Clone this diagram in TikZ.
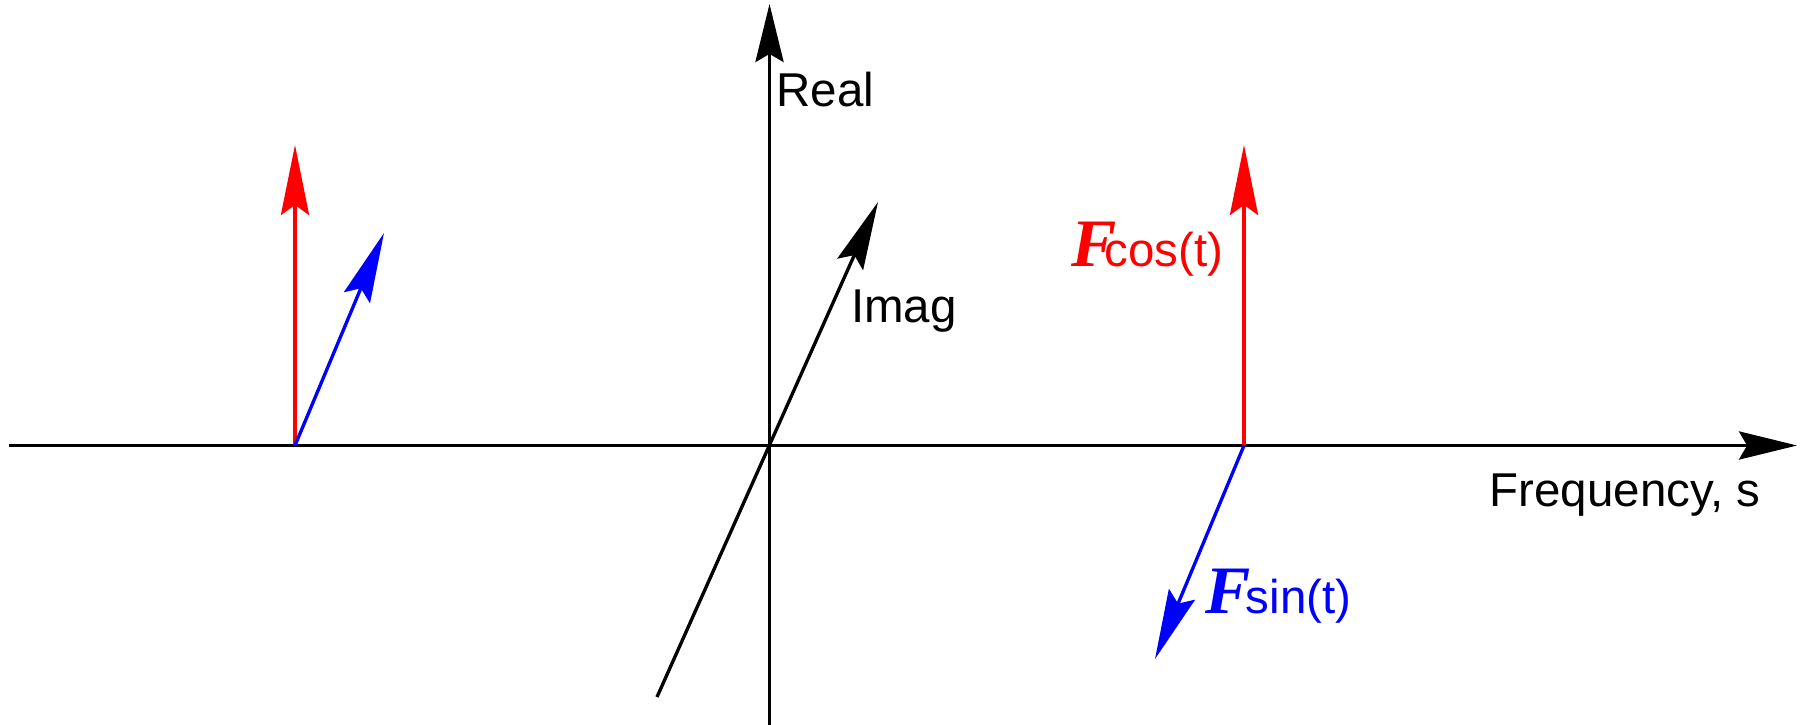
\documentclass[tikz,border=0pt]{standalone}
\usepackage{fontspec}
\setmainfont{Liberation Sans}
\newfontfamily\timesF{Liberation Serif}
\usetikzlibrary{arrows.meta}
\definecolor{pr}{RGB}{255,0,0}
\definecolor{pb}{RGB}{0,0,255}
\tikzset{
  axisline/.style={line width=0.95pt, black, -{Stealth[length=16.5pt, width=8pt, inset=2.3pt]}},
  vec/.style={line width=0.95pt, -{Stealth[length=19.9pt, width=8pt, inset=2.85pt]}},
  lbl/.style={anchor=base west, inner sep=0pt, font=\fontsize{13.5pt}{16pt}\selectfont},
  bigF/.style={anchor=base west, inner sep=0pt, font=\timesF\bfseries\itshape\fontsize{19.3pt}{22pt}\selectfont},
}
\begin{document}
\begin{tikzpicture}[x=0.01cm, y=-0.01cm]
\useasboundingbox (0,0) rectangle (1801,725);
% coordinates
\coordinate (O) at (769.5,445.5);
\coordinate (xL) at (9,445.5);
\coordinate (xR) at (1797,445.5);
\coordinate (yB) at (769.5,725);
\coordinate (yT) at (769.5,4);
\coordinate (iB) at (657,697);
\coordinate (iT) at (878,202);
\coordinate (L) at (295,445.5);
\coordinate (Lr) at (295,145);
\coordinate (Lb) at (384,233);
\coordinate (R) at (1244,445.5);
\coordinate (Rr) at (1244,145);
\coordinate (Rb) at (1155,659);
% axes
\draw[axisline] (xL) -- (xR);
\draw[axisline] (yB) -- (yT);
\draw[line width=0.95pt, -{Stealth[length=19.4pt, width=8pt, inset=2.85pt]}] (iB) -- (iT);
% vectors
\draw[vec, pr] (L) -- (Lr);
\draw[vec, pb] (L) -- (Lb);
\draw[vec, pr] (R) -- (Rr);
\draw[vec, pb] (R) -- (Rb);
% labels
\node[lbl] (real) at (776,107) {Real};
\node[lbl] (imag) at (850.5,323) {Imag};
\node[lbl] (freq) at (1489,507) {Frequency, s};
\node[bigF, pr] (fc) at (1071,267) {F};
\node[lbl, pr] (cos) at (1104,267) {cos(t)};
\node[bigF, pb] (fs) at (1205,613) {F};
\node[lbl, pb] (sin) at (1245,613) {sin(t)};
\end{tikzpicture}
\end{document}
